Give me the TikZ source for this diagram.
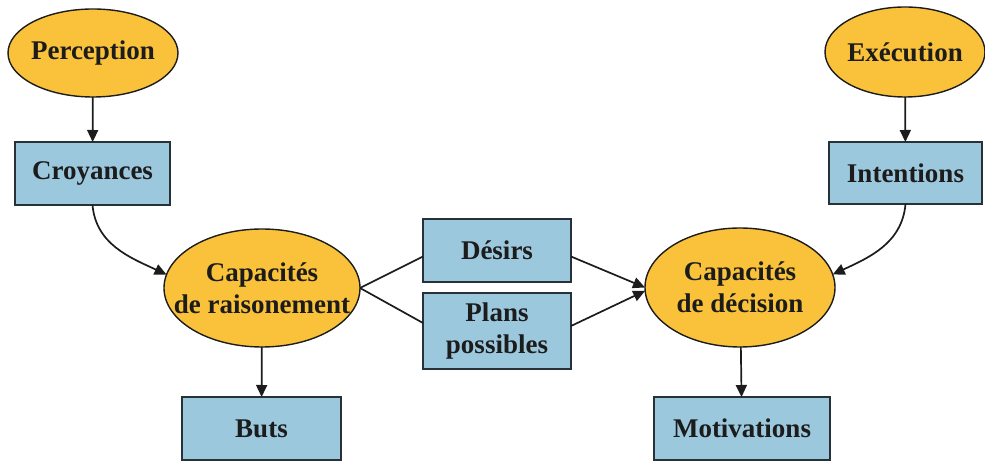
\documentclass[tikz,border=0pt]{standalone}
\usepackage{fontspec}
\setmainfont{Liberation Serif}
\usetikzlibrary{arrows.meta,shapes.geometric}
\definecolor{ovalfill}{RGB}{249,194,58}
\definecolor{boxfill}{RGB}{156,200,222}
\definecolor{boxline}{RGB}{40,48,56}
\definecolor{ink}{RGB}{28,28,28}
\tikzset{
  lbl/.style={font=\fontsize{27}{32}\selectfont\bfseries, text=ink, align=center, inner sep=0pt, outer sep=0pt},
  oval/.style={ellipse, draw=ink, line width=1.4pt, fill=ovalfill, inner sep=0pt, outer sep=0pt,
    label={[lbl]center:#1}},
  card/.style={lbl, rectangle, draw=boxline, line width=2pt, fill=boxfill},
  link/.style={draw=ink, line width=1.7pt},
  flow/.style={link, -{Triangle[length=12pt,width=11pt]}},
}
\begin{document}
\begin{tikzpicture}[x=1pt,y=1pt]
\useasboundingbox (0,0) rectangle (985,463);
% upper row
\node[oval={Perception}, minimum width=170pt, minimum height=88pt] (perc) at (93,410) {};
\node[oval={Exécution}, minimum width=160pt, minimum height=90pt] (exec) at (905,411) {};
\node[card, minimum width=155pt, minimum height=63pt] (croy) at (92.5,289.5) {Croyances};
\node[card, minimum width=153pt, minimum height=62pt] (intent) at (905.5,290) {Intentions};
% reasoning and decision
\node[oval={Capacités\\de raisonement}, minimum width=196pt, minimum height=118pt] (rais) at (262,175) {};
\node[oval={Capacités\\de décision}, minimum width=190pt, minimum height=119pt] (deci) at (740,175.5) {};
% middle boxes
\node[card, minimum width=148pt, minimum height=63pt] (des) at (497,212.5) {Désirs};
\node[card, minimum width=148pt, minimum height=76pt] (plans) at (497,132) {Plans\\possibles};
% outputs
\node[card, minimum width=159pt, minimum height=63pt] (buts) at (261.5,34.5) {Buts};
\node[card, minimum width=176pt, minimum height=63pt] (motiv) at (742,34.5) {Motivations};
% connectors
\draw[flow] (perc) -- (croy);
\draw[flow] (exec) -- (intent);
\draw[flow] (croy.south) to[out=-85,in=155] (rais.172);
\draw[flow] (intent.south) to[out=-95,in=25] (deci.8);
\draw[link] (rais.east) -- ([yshift=-6pt]des.west);
\draw[link] (rais.east) -- ([yshift=8pt]plans.west);
\draw[flow] ([yshift=-6pt]des.east) -- (deci.west);
\draw[flow] ([yshift=5pt]plans.east) -- (deci.182);
\draw[flow] (rais) -- (buts);
\draw[flow] (deci) -- (motiv);
\end{tikzpicture}
\end{document}
